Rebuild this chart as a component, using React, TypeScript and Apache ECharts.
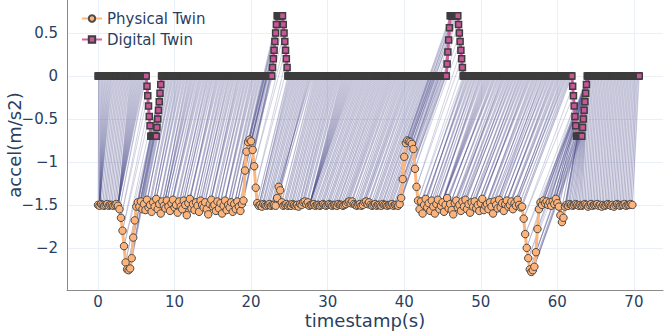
import React, { useEffect, useRef } from 'react';
import * as echarts from 'echarts';

// sampling intervals (s)
const PHYS_DT = 0.2;
const DIG_DT = 0.1;

// Physical twin acceleration (m/s2), one sample every 0.2 s, 2 s per row
const PHYSICAL: number[] = [
  -1.50, -1.51, -1.49, -1.50, -1.51, -1.50, -1.49, -1.51, -1.50, -1.50, // 0
  -1.51, -1.50, -1.49, -1.51, -1.55, -1.65, -1.80, -1.98, -2.17, -2.25, // 2
  -2.26, -2.24, -2.12, -1.88, -1.68, -1.52, -1.47, -1.52, -1.46, -1.55, // 4
  -1.49, -1.56, -1.44, -1.53, -1.50, -1.58, -1.47, -1.52, -1.43, -1.55, // 6
  -1.49, -1.60, -1.46, -1.51, -1.54, -1.45, -1.52, -1.57, -1.48, -1.44, // 8
  -1.53, -1.50, -1.59, -1.46, -1.52, -1.55, -1.45, -1.50, -1.62, -1.48, // 10
  -1.43, -1.54, -1.49, -1.56, -1.47, -1.51, -1.58, -1.45, -1.50, -1.53, // 12
  -1.47, -1.55, -1.61, -1.49, -1.44, -1.52, -1.50, -1.57, -1.46, -1.54, // 14
  -1.48, -1.60, -1.51, -1.45, -1.56, -1.50, -1.53, -1.47, -1.58, -1.49, // 16
  -1.55, -1.46, -1.52, -1.57, -1.49, -1.45, -1.10, -0.88, -0.77, -0.74, // 18
  -0.76, -0.86, -1.05, -1.30, -1.48, -1.51, -1.50, -1.52, -1.49, -1.50, // 20
  -1.51, -1.50, -1.49, -1.51, -1.50, -1.50, -1.51, -1.42, -1.29, -1.33, // 22
  -1.47, -1.51, -1.50, -1.49, -1.51, -1.50, -1.51, -1.49, -1.50, -1.51, // 24
  -1.50, -1.52, -1.49, -1.50, -1.47, -1.46, -1.49, -1.47, -1.51, -1.50, // 26
  -1.50, -1.49, -1.51, -1.50, -1.50, -1.51, -1.50, -1.49, -1.50, -1.51, // 28
  -1.50, -1.49, -1.50, -1.51, -1.50, -1.50, -1.51, -1.49, -1.50, -1.50, // 30
  -1.51, -1.50, -1.49, -1.47, -1.46, -1.48, -1.46, -1.49, -1.50, -1.51, // 32
  -1.50, -1.49, -1.51, -1.50, -1.47, -1.46, -1.49, -1.47, -1.50, -1.51, // 34
  -1.50, -1.49, -1.51, -1.50, -1.50, -1.51, -1.49, -1.50, -1.50, -1.51, // 36
  -1.50, -1.50, -1.49, -1.51, -1.50, -1.50, -1.51, -1.49, -1.42, -1.20, // 38
  -0.94, -0.78, -0.75, -0.76, -0.77, -0.79, -0.85, -1.08, -1.29, -1.45, // 40
  -1.55, -1.46, -1.60, -1.50, -1.43, -1.53, -1.48, -1.57, -1.45, -1.52, // 42
  -1.60, -1.49, -1.44, -1.55, -1.51, -1.47, -1.58, -1.50, -1.42, -1.54, // 44
  -1.49, -1.56, -1.61, -1.48, -1.45, -1.53, -1.50, -1.57, -1.46, -1.52, // 46
  -1.44, -1.55, -1.49, -1.59, -1.47, -1.52, -1.46, -1.54, -1.50, -1.57, // 48
  -1.48, -1.43, -1.56, -1.51, -1.49, -1.55, -1.47, -1.52, -1.60, -1.46, // 50
  -1.50, -1.54, -1.44, -1.53, -1.48, -1.57, -1.49, -1.45, -1.52, -1.50, // 52
  -1.46, -1.55, -1.48, -1.51, -1.44, -1.50, -1.53, -1.52, -1.66, -1.84, // 54
  -2.00, -2.12, -2.25, -2.28, -2.26, -2.22, -2.05, -1.78, -1.55, -1.47, // 56
  -1.50, -1.45, -1.48, -1.46, -1.50, -1.47, -1.51, -1.46, -1.49, -1.43, // 58
  -1.48, -1.52, -1.62, -1.70, -1.65, -1.52, -1.50, -1.51, -1.49, -1.50, // 60
  -1.51, -1.50, -1.49, -1.50, -1.51, -1.50, -1.51, -1.50, -1.49, -1.50, // 62
  -1.52, -1.50, -1.49, -1.51, -1.50, -1.50, -1.49, -1.51, -1.50, -1.52, // 64
  -1.50, -1.51, -1.50, -1.49, -1.50, -1.51, -1.50, -1.52, -1.50, -1.49, // 66
  -1.50, -1.51, -1.50, -1.50, -1.49, -1.51, -1.50, -1.50, -1.49, -1.50, // 68
];

// Digital twin acceleration (m/s2), one sample every 0.1 s, 1 s per row
const DIGITAL: number[] = [
  0, 0, 0, 0, 0, 0, 0, 0, 0, 0, // 0
  0, 0, 0, 0, 0, 0, 0, 0, 0, 0, // 1
  0, 0, 0, 0, 0, 0, 0, 0, 0, 0, // 2
  0, 0, 0, 0, 0, 0, 0, 0, 0, 0, // 3
  0, 0, 0, 0, 0, 0, 0, 0, 0, 0, // 4
  0, 0, 0, 0, 0, 0, 0, 0, 0, 0, // 5
  0, 0, 0, 0, -0.12, -0.23, -0.35, -0.47, -0.58, -0.7, // 6
  -0.7, -0.7, -0.7, -0.7, -0.7, -0.7, -0.7, -0.6, -0.5, -0.4, // 7
  -0.3, -0.2, -0.1, 0, 0, 0, 0, 0, 0, 0, // 8
  0, 0, 0, 0, 0, 0, 0, 0, 0, 0, // 9
  0, 0, 0, 0, 0, 0, 0, 0, 0, 0, // 10
  0, 0, 0, 0, 0, 0, 0, 0, 0, 0, // 11
  0, 0, 0, 0, 0, 0, 0, 0, 0, 0, // 12
  0, 0, 0, 0, 0, 0, 0, 0, 0, 0, // 13
  0, 0, 0, 0, 0, 0, 0, 0, 0, 0, // 14
  0, 0, 0, 0, 0, 0, 0, 0, 0, 0, // 15
  0, 0, 0, 0, 0, 0, 0, 0, 0, 0, // 16
  0, 0, 0, 0, 0, 0, 0, 0, 0, 0, // 17
  0, 0, 0, 0, 0, 0, 0, 0, 0, 0, // 18
  0, 0, 0, 0, 0, 0, 0, 0, 0, 0, // 19
  0, 0, 0, 0, 0, 0, 0, 0, 0, 0, // 20
  0, 0, 0, 0, 0, 0, 0, 0, 0, 0, // 21
  0, 0, 0, 0, 0, 0, 0, 0, 0.1, 0.2, // 22
  0.3, 0.4, 0.5, 0.6, 0.7, 0.7, 0.7, 0.7, 0.7, 0.7, // 23
  0.7, 0.7, 0.6, 0.5, 0.4, 0.3, 0.2, 0.1, 0, 0, // 24
  0, 0, 0, 0, 0, 0, 0, 0, 0, 0, // 25
  0, 0, 0, 0, 0, 0, 0, 0, 0, 0, // 26
  0, 0, 0, 0, 0, 0, 0, 0, 0, 0, // 27
  0, 0, 0, 0, 0, 0, 0, 0, 0, 0, // 28
  0, 0, 0, 0, 0, 0, 0, 0, 0, 0, // 29
  0, 0, 0, 0, 0, 0, 0, 0, 0, 0, // 30
  0, 0, 0, 0, 0, 0, 0, 0, 0, 0, // 31
  0, 0, 0, 0, 0, 0, 0, 0, 0, 0, // 32
  0, 0, 0, 0, 0, 0, 0, 0, 0, 0, // 33
  0, 0, 0, 0, 0, 0, 0, 0, 0, 0, // 34
  0, 0, 0, 0, 0, 0, 0, 0, 0, 0, // 35
  0, 0, 0, 0, 0, 0, 0, 0, 0, 0, // 36
  0, 0, 0, 0, 0, 0, 0, 0, 0, 0, // 37
  0, 0, 0, 0, 0, 0, 0, 0, 0, 0, // 38
  0, 0, 0, 0, 0, 0, 0, 0, 0, 0, // 39
  0, 0, 0, 0, 0, 0, 0, 0, 0, 0, // 40
  0, 0, 0, 0, 0, 0, 0, 0, 0, 0, // 41
  0, 0, 0, 0, 0, 0, 0, 0, 0, 0, // 42
  0, 0, 0, 0, 0, 0, 0, 0, 0, 0, // 43
  0, 0, 0, 0, 0, 0, 0, 0, 0, 0, // 44
  0, 0, 0, 0, 0, 0, 0.14, 0.28, 0.42, 0.56, // 45
  0.7, 0.7, 0.7, 0.7, 0.7, 0.7, 0.7, 0.7, 0.7, 0.7, // 46
  0.7, 0.6, 0.5, 0.4, 0.3, 0.2, 0.1, 0, 0, 0, // 47
  0, 0, 0, 0, 0, 0, 0, 0, 0, 0, // 48
  0, 0, 0, 0, 0, 0, 0, 0, 0, 0, // 49
  0, 0, 0, 0, 0, 0, 0, 0, 0, 0, // 50
  0, 0, 0, 0, 0, 0, 0, 0, 0, 0, // 51
  0, 0, 0, 0, 0, 0, 0, 0, 0, 0, // 52
  0, 0, 0, 0, 0, 0, 0, 0, 0, 0, // 53
  0, 0, 0, 0, 0, 0, 0, 0, 0, 0, // 54
  0, 0, 0, 0, 0, 0, 0, 0, 0, 0, // 55
  0, 0, 0, 0, 0, 0, 0, 0, 0, 0, // 56
  0, 0, 0, 0, 0, 0, 0, 0, 0, 0, // 57
  0, 0, 0, 0, 0, 0, 0, 0, 0, 0, // 58
  0, 0, 0, 0, 0, 0, 0, 0, 0, 0, // 59
  0, 0, 0, 0, 0, 0, 0, 0, 0, 0, // 60
  0, 0, 0, 0, 0, 0, 0, 0, 0, 0, // 61
  -0.12, -0.23, -0.35, -0.47, -0.58, -0.7, -0.7, -0.7, -0.7, -0.7, // 62
  -0.7, -0.7, -0.7, -0.6, -0.5, -0.4, -0.3, -0.2, -0.1, 0, // 63
  0, 0, 0, 0, 0, 0, 0, 0, 0, 0, // 64
  0, 0, 0, 0, 0, 0, 0, 0, 0, 0, // 65
  0, 0, 0, 0, 0, 0, 0, 0, 0, 0, // 66
  0, 0, 0, 0, 0, 0, 0, 0, 0, 0, // 67
  0, 0, 0, 0, 0, 0, 0, 0, 0, 0, // 68
  0, 0, 0, 0, 0, 0, 0, 0, 0, 0, // 69
  0, 0, 0, 0, 0, 0, 0, 0, // 70
];

const SERIES_NAMES = ['Physical Twin', 'Digital Twin'];
const X_TICKS = [0, 10, 20, 30, 40, 50, 60, 70];
const Y_TICKS = [0.5, 0, -0.5, -1, -1.5, -2];
const X_TITLE = 'timestamp(s)';
const Y_TITLE = 'accel(m/s2)';

function zNorm(a: number[]): number[] {
  const mean = a.reduce((s, v) => s + v, 0) / a.length;
  const sd = Math.sqrt(a.reduce((s, v) => s + (v - mean) * (v - mean), 0) / a.length) || 1;
  return a.map((v) => (v - mean) / sd);
}

// dynamic time warping (with a small penalty on non-diagonal steps); returns matched index pairs
function dtwPath(a: number[], b: number[], penalty: number): [number, number][] {
  const n = a.length;
  const m = b.length;
  const D = new Float64Array(n * m);
  for (let i = 0; i < n; i++) {
    for (let j = 0; j < m; j++) {
      const c = Math.abs(a[i] - b[j]);
      if (i === 0 && j === 0) {
        D[0] = c;
        continue;
      }
      let best = Infinity;
      if (i > 0 && j > 0) best = Math.min(best, D[(i - 1) * m + j - 1]);
      if (i > 0) best = Math.min(best, D[(i - 1) * m + j] + penalty);
      if (j > 0) best = Math.min(best, D[i * m + j - 1] + penalty);
      D[i * m + j] = c + best;
    }
  }
  const path: [number, number][] = [];
  let i = n - 1;
  let j = m - 1;
  path.push([i, j]);
  while (i > 0 || j > 0) {
    if (i === 0) j--;
    else if (j === 0) i--;
    else {
      const d = D[(i - 1) * m + j - 1];
      const u = D[(i - 1) * m + j] + penalty;
      const l = D[i * m + j - 1] + penalty;
      if (d <= u && d <= l) {
        i--;
        j--;
      } else if (u <= l) i--;
      else j--;
    }
    path.push([i, j]);
  }
  return path.reverse();
}

const near = (v: number, list: number[]) => list.some((t) => Math.abs(t - v) < 1e-6);
const FONT = 'DejaVu Sans';

export default function App() {
  const ref = useRef<HTMLDivElement>(null);
  useEffect(() => {
    document.body.style.margin = '0';
    if (!ref.current) return;
    const chart = echarts.init(ref.current, null, { renderer: 'svg' });
    const phys = PHYSICAL.map((v, i) => [Math.round(i * PHYS_DT * 100) / 100, v]);
    const dig = DIGITAL.map((v, i) => [Math.round(i * DIG_DT * 100) / 100, v]);
    // align on a common time step: every other digital sample
    const step = Math.round(PHYS_DT / DIG_DT);
    const digCoarse = DIGITAL.filter((_, k) => k % step === 0);
    const path = dtwPath(zNorm(PHYSICAL), zNorm(digCoarse), 0.4);
    const links: { coords: number[][] }[] = [];
    path.forEach(([i, j]) => {
      for (let s = 0; s < step; s++) {
        const k = j * step + s;
        if (k < dig.length) links.push({ coords: [phys[i], dig[k]] });
      }
    });

    chart.setOption({
      animation: false,
      backgroundColor: '#ffffff',
      grid: { left: 67, right: 2, top: 0, bottom: 43, outerBoundsMode: 'none' },
      legend: {
        data: SERIES_NAMES,
        orient: 'vertical',
        left: 76,
        top: 6,
        itemGap: 6,
        itemWidth: 20,
        itemHeight: 8,
        textStyle: { fontFamily: FONT, fontSize: 15, color: '#2a3f5f' },
      },
      xAxis: {
        type: 'value',
        min: -4.05,
        max: 73.8,
        splitNumber: 8,
        name: X_TITLE,
        nameLocation: 'middle',
        nameGap: 20,
        nameMoveOverlap: false,
        nameTextStyle: { fontFamily: FONT, fontSize: 18, lineHeight: 20, color: '#2a3f5f' },
        axisLine: { show: true, onZero: false, lineStyle: { color: '#8a8a8a', width: 1 } },
        axisTick: { show: false },
        axisLabel: {
          margin: 4,
          fontFamily: FONT,
          fontSize: 15,
          lineHeight: 15,
          color: '#2a3f5f',
          formatter: (v: number) => (near(v, X_TICKS) ? String(Math.round(v)) : ''),
        },
        splitLine: { show: true, showMaxLine: false, lineStyle: { color: '#ebf0f8', width: 1 } },
      },
      yAxis: {
        type: 'value',
        min: -2.49,
        max: 0.884,
        splitNumber: 7,
        name: Y_TITLE,
        nameLocation: 'middle',
        nameGap: 44,
        nameMoveOverlap: false,
        nameTextStyle: { fontFamily: FONT, fontSize: 18, color: '#2a3f5f' },
        axisLine: { show: true, onZero: false, lineStyle: { color: '#8a8a8a', width: 1 } },
        axisTick: { show: false },
        axisLabel: {
          margin: 9,
          fontFamily: FONT,
          fontSize: 15,
          color: '#2a3f5f',
          formatter: (v: number) => {
            if (!near(v, Y_TICKS)) return '';
            const r = Math.round(v * 10) / 10;
            return r < 0 ? '\u2212' + String(Math.abs(r)) : String(r);
          },
        },
        splitLine: { show: true, showMaxLine: false, lineStyle: { color: '#ebf0f8', width: 1 } },
      },
      series: [
        {
          type: 'lines',
          coordinateSystem: 'cartesian2d',
          data: links,
          silent: true,
          large: false,
          z: 1,
          lineStyle: { color: 'rgb(80,80,140)', width: 0.8, opacity: 0.32, curveness: 0 },
        },
        {
          type: 'line',
          name: SERIES_NAMES[0],
          data: phys,
          z: 3,
          symbol: 'circle',
          symbolSize: 7.5,
          showAllSymbol: true,
          lineStyle: { color: '#fdb57e', width: 3 },
          itemStyle: { color: '#fdb37a', borderColor: '#4a4a4a', borderWidth: 1 },
        },
        {
          type: 'line',
          name: SERIES_NAMES[1],
          data: dig,
          z: 3,
          symbol: 'rect',
          symbolSize: 6,
          showAllSymbol: true,
          lineStyle: { color: '#d2609f', width: 3 },
          itemStyle: { color: '#c8579a', borderColor: '#3d3d3d', borderWidth: 1.5 },
        },
      ],
    });
    return () => chart.dispose();
  }, []);
  return <div ref={ref} style={{ width: 665, height: 333 }} />;
}
